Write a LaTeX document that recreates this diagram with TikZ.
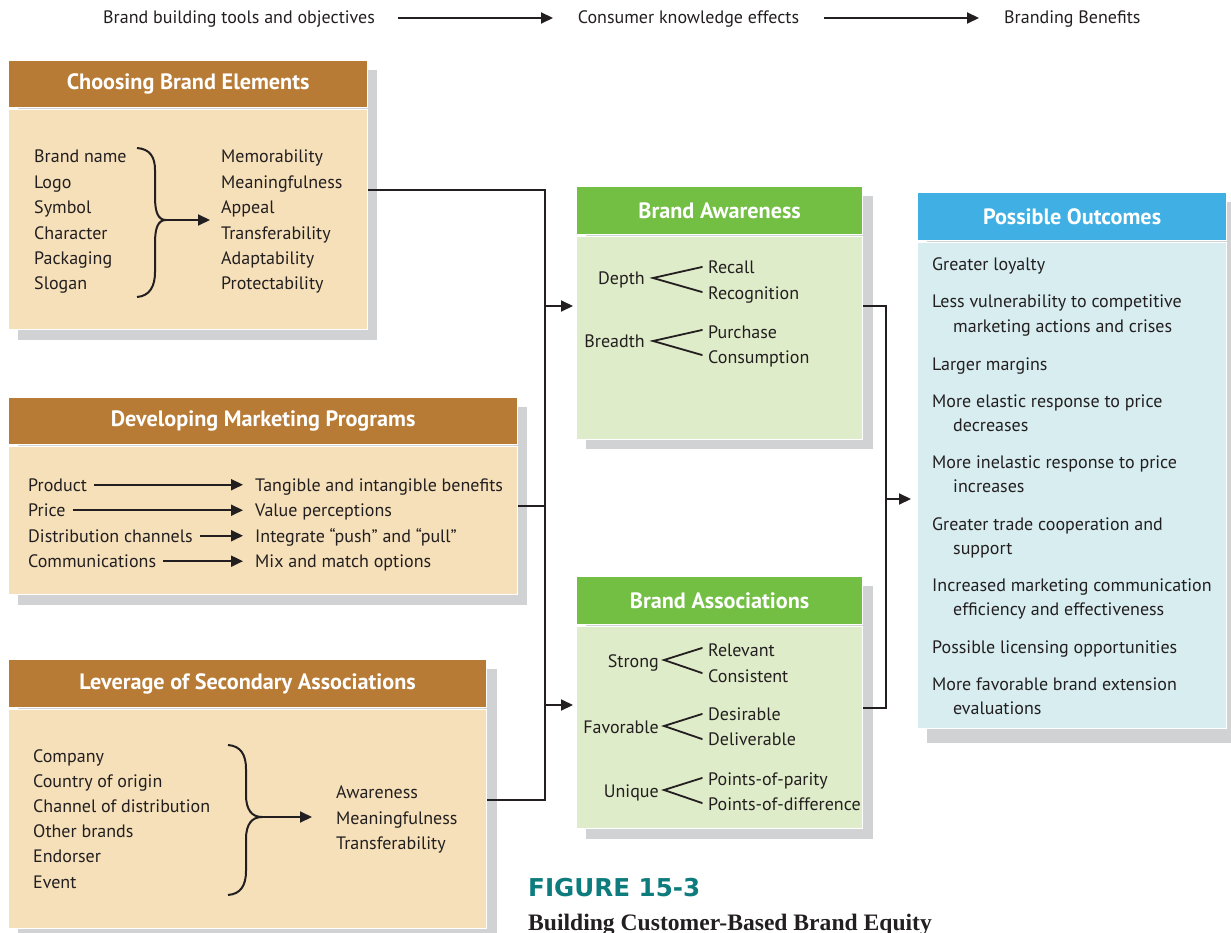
\documentclass[tikz,border=0pt]{standalone}
\usepackage{fontspec}
\setmainfont{PT Sans}
\newfontfamily\capserif{Liberation Serif}
\newfontfamily\figfont{DejaVu Sans}
\usetikzlibrary{arrows.meta}
\definecolor{ink}{RGB}{35,31,32}
\definecolor{brownH}{RGB}{184,123,54}
\definecolor{brownB}{RGB}{245,224,185}
\definecolor{greenH}{RGB}{114,191,68}
\definecolor{greenB}{RGB}{223,236,201}
\definecolor{blueH}{RGB}{64,176,228}
\definecolor{blueB}{RGB}{215,237,240}
\definecolor{shadowc}{RGB}{209,210,212}
\definecolor{tealc}{RGB}{14,123,124}
\tikzset{
  boxbase/.style={draw=white, line width=1.2pt, inner sep=0pt, anchor=north west},
  hdrB/.style={boxbase, fill=brownH, text=white, font=\fontsize{22.2}{26}\selectfont\bfseries},
  hdrG/.style={boxbase, fill=greenH, text=white, font=\fontsize{22.2}{26}\selectfont\bfseries},
  hdrL/.style={boxbase, fill=blueH, text=white, font=\fontsize{22.2}{26}\selectfont\bfseries},
  bodyB/.style={boxbase, fill=brownB},
  bodyG/.style={boxbase, fill=greenB},
  bodyL/.style={boxbase, fill=blueB},
  txt/.style={inner sep=0pt, anchor=base west, text=ink, font=\fontsize{18}{22}\selectfont},
  txtr/.style={txt, anchor=base east},
  conn/.style={draw=ink, line width=2pt},
  arr/.style={conn, -{Triangle[length=12pt,width=11pt]}},
  thin/.style={draw=ink, line width=1.8pt, line cap=round},
  bracel/.style={draw=ink, line width=2pt}
}
\begin{document}
\begin{tikzpicture}[x=1pt,y=-1pt]
\useasboundingbox (0,0) rectangle (1231,933);
% ---------- shadows
\fill[shadowc] (18,70) rectangle (377,340);
\fill[shadowc] (18,407) rectangle (527,605);
\fill[shadowc] (18,669) rectangle (497,945);
\fill[shadowc] (586,196) rectangle (873,449);
\fill[shadowc] (586,586) rectangle (873,839);
\fill[shadowc] (927,202) rectangle (1240,743);
% ---------- boxes
\node[bodyB, minimum width=359pt, minimum height=220pt] (b1) at (8,109) {};
\node[hdrB, minimum width=359pt, minimum height=47pt] (h1) at (8,60) {Choosing Brand Elements};
\node[bodyB, minimum width=509pt, minimum height=148pt] (b2) at (8,446) {};
\node[hdrB, minimum width=509pt, minimum height=47pt] (h2) at (8,397) {Developing Marketing Programs};
\node[bodyB, minimum width=478pt, minimum height=219pt] (b3) at (8,709) {};
\node[hdrB, minimum width=478pt, minimum height=48pt] (h3) at (8,659) {Leverage of Secondary Associations};
\node[bodyG, minimum width=286pt, minimum height=203pt] (ba) at (576,236) {};
\node[hdrG, minimum width=286pt, minimum height=48pt] (hba) at (576,186) {Brand Awareness};
\node[bodyG, minimum width=286pt, minimum height=202pt] (as) at (576,626) {};
\node[hdrG, minimum width=286pt, minimum height=48pt] (has) at (576,576) {Brand Associations};
\node[bodyL, minimum width=309pt, minimum height=486pt] (po) at (917,242) {};
\node[hdrL, minimum width=309pt, minimum height=48pt] (hpo) at (917,192) {Possible Outcomes};
% ---------- top row
\node[txt] (t1) at (103,24) {Brand building tools and objectives};
\node[txt, anchor=base] (t2) at (688.5,24) {Consumer knowledge effects};
\node[txt] (t3) at (1004,24) {Branding Benefits};
\coordinate (a1s) at (398,18); \coordinate (a1e) at (553,18);
\coordinate (a2s) at (824,18); \coordinate (a2e) at (979,18);
\draw[arr] (a1s) -- (a1e);
\draw[arr] (a2s) -- (a2e);
% ---------- connectors
\coordinate (s1) at (545,190);
\coordinate (s2) at (545,506);
\coordinate (s3) at (545,800);
\coordinate (sa) at (545,306);
\coordinate (sb) at (545,705);
\draw[conn] (s1 -| b1.east) -- (s1) -- (s3) -- (s3 -| b3.east);
\draw[conn] (s2 -| b2.east) -- (s2);
\draw[arr, shorten >=3pt] (sa) -- (sa -| ba.west);
\draw[arr, shorten >=3pt] (sb) -- (sb -| as.west);
\coordinate (r1) at (886,306);
\coordinate (r2) at (886,708);
\coordinate (rm) at (886,499);
\draw[conn] (r1 -| ba.east) -- (r1) -- (r2) -- (r2 -| as.east);
\draw[arr, shorten >=6pt] (rm) -- (rm -| po.west);
% ---------- box 1 content
\foreach \t [count=\i] in {Brand name,Logo,Symbol,Character,Packaging,Slogan}
  \node[txt] (e\i) at (34,{163+25.4*(\i-1)}) {\t};
\foreach \t [count=\i] in {Memorability,Meaningfulness,Appeal,Transferability,Adaptability,Protectability}
  \node[txt] (m\i) at (221,{163+25.4*(\i-1)}) {\t};
\draw[bracel] (137,148) .. controls (150,149) and (155,157) .. (155,170) -- (155,197)
  .. controls (155,212) and (158,220) .. (166,220)
  .. controls (158,220) and (155,228) .. (155,243) -- (155,272)
  .. controls (155,286) and (150,296) .. (137,297);
\coordinate (bt1) at (166,220);
\draw[arr, shorten >=11pt] (bt1) -- (bt1 -| m1.west) ;
% ---------- box 2 content
\node[txt] (p1) at (28,491) {Product};
\node[txt] (p2) at (28,516.5) {Price};
\node[txt] (p3) at (28,542) {Distribution channels};
\node[txt] (p4) at (28,567.5) {Communications};
\node[txt] (q1) at (255,491) {Tangible and intangible benefits};
\node[txt] (q2) at (255,516.5) {Value perceptions};
\node[txt] (q3) at (255,542) {Integrate \char"201C push\char"201D\ and \char"201C pull\char"201D};
\node[txt] (q4) at (255,567.5) {Mix and match options};
\foreach \i in {1,2,3,4}
  \draw[arr, shorten >=12pt] ([xshift=7pt]p\i.east) -- (p\i.east -| q\i.west);
% ---------- box 3 content
\foreach \t [count=\i] in {Company,Country of origin,Channel of distribution,Other brands,Endorser,Event}
  \node[txt] (c\i) at (33,{762+25.2*(\i-1)}) {\t};
\node[txt] (w1) at (336,798) {Awareness};
\node[txt] (w2) at (336,824) {Meaningfulness};
\node[txt] (w3) at (336,849) {Transferability};
\draw[bracel] (228,745) .. controls (241,746) and (246,755) .. (246,769) -- (246,795)
  .. controls (246,810) and (252,817) .. (262,817)
  .. controls (252,817) and (246,824) .. (246,839) -- (246,871)
  .. controls (246,885) and (241,894) .. (228,895);
\coordinate (bt3) at (262,817);
\draw[arr, shorten >=24pt] (bt3) -- (bt3 -| w1.west);
% ---------- Brand Awareness content
\node[txtr] (dp) at (645,284) {Depth};
\node[txt] (dp1) at (708,274) {Recall};
\node[txt] (dp2) at (708,299) {Recognition};
\node[txtr] (br) at (645,347) {Breadth};
\node[txt] (br1) at (708,338) {Purchase};
\node[txt] (br2) at (708,363) {Consumption};
\draw[thin] (702,267) -- (653,278) -- (702,292);
\draw[thin] (702,330) -- (653,341) -- (702,355);
% ---------- Brand Associations content
\node[txtr] (st) at (659,667) {Strong};
\node[txt] (st1) at (708,656) {Relevant};
\node[txt] (st2) at (708,682) {Consistent};
\node[txtr] (fv) at (659,733) {Favorable};
\node[txt] (fv1) at (708,720) {Desirable};
\node[txt] (fv2) at (708,745) {Deliverable};
\node[txtr] (un) at (659,797) {Unique};
\node[txt] (un1) at (708,785) {Points-of-parity};
\node[txt] (un2) at (708,810) {Points-of-difference};
\draw[thin] (702,648) -- (664,660) -- (702,673);
\draw[thin] (702,714) -- (664,726) -- (702,739);
\draw[thin] (702,778) -- (664,790) -- (702,803);
% ---------- Possible Outcomes content
\node[txt] (o1) at (932,271) {Greater loyalty};
\node[txt] (o2) at (932,308) {Less vulnerability to competitive};
\node[txt] (o2b) at (953,332) {marketing actions and crises};
\node[txt] (o3) at (932,370) {Larger margins};
\node[txt] (o4) at (932,407) {More elastic response to price};
\node[txt] (o4b) at (953,431) {decreases};
\node[txt] (o5) at (932,468) {More inelastic response to price};
\node[txt] (o5b) at (953,492) {increases};
\node[txt] (o6) at (932,530) {Greater trade cooperation and};
\node[txt] (o6b) at (953,554) {support};
\node[txt] (o7) at (932,591) {Increased marketing communication};
\node[txt] (o7b) at (953,615) {efficiency and effectiveness};
\node[txt] (o8) at (932,653) {Possible licensing opportunities};
\node[txt] (o9) at (932,690) {More favorable brand extension};
\node[txt] (o9b) at (953,714) {evaluations};
% ---------- caption
\node[inner sep=0pt, anchor=base west, text=tealc, font=\figfont\bfseries\fontsize{24.6}{28}\selectfont] (fig) at (528,896) {FIGURE 15-3};
\node[inner sep=0pt, anchor=base west, text=ink, font=\capserif\bfseries\fontsize{23.6}{26}\selectfont] (cap) at (528,930) {Building Customer-Based Brand Equity};
\end{tikzpicture}
\end{document}
